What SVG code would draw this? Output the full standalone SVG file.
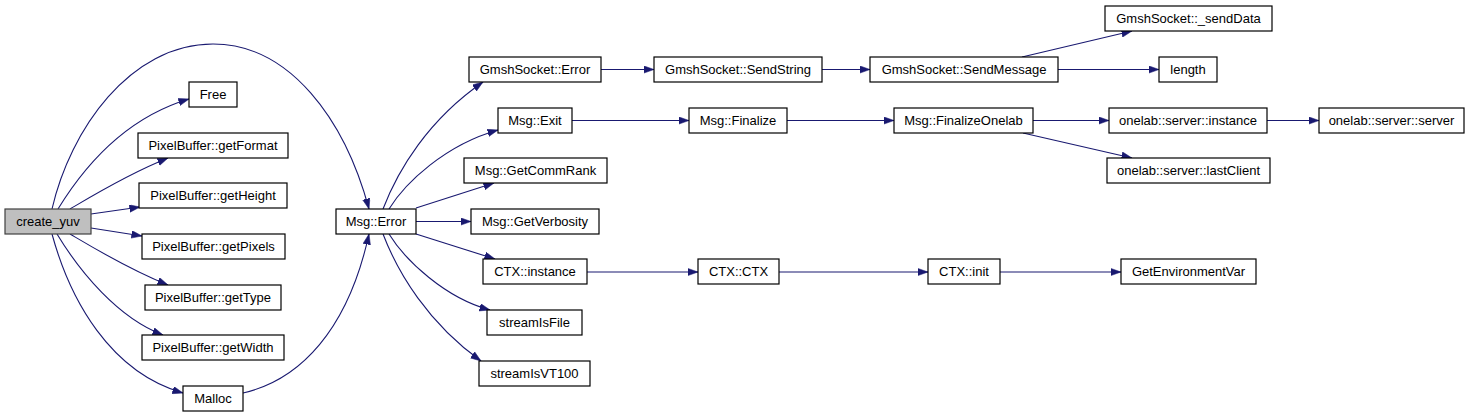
<svg xmlns="http://www.w3.org/2000/svg" width="1469" height="417" viewBox="0 0 1469 417">
<style>
.n rect{fill:#fff;stroke:#000;stroke-width:1.2}
.n.root rect{fill:#bfbfbf;stroke:#404040}
.n text{font-family:"Liberation Sans",Arial,sans-serif;font-size:13px;fill:#000;text-anchor:middle}
.e path{fill:none;stroke:#191970;stroke-width:1.1;marker-end:url(#ah)}
</style>
<defs>
<marker id="ah" markerUnits="userSpaceOnUse" markerWidth="11" markerHeight="8" refX="10.5" refY="3.75" orient="auto">
<path d="M0,0 L10.5,3.75 L0,7.5 z" fill="#191970" stroke="#191970" stroke-width="0.5"/>
</marker>
</defs>
<rect width="1469" height="417" fill="#fff"/>
<g id="edges" class="e">
<path d="M52,209 C70,130 130,44 213,44 C290,44 345,120 369,209"/>
<path d="M58,209 C85,165 125,118 189,99"/>
<path d="M70,209 C92,196 128,174 168,158"/>
<path d="M91,214 L140,207"/>
<path d="M91,228 L142,236"/>
<path d="M70,234 C92,247 128,269 168,285"/>
<path d="M57,234 C80,272 118,318 163,335"/>
<path d="M52,234 C70,300 110,372 183,393"/>
<path d="M243,393 C300,380 348,330 369,234"/>
<path d="M383,209 C398,170 428,120 483,82"/>
<path d="M389,209 C405,183 445,145 498,130"/>
<path d="M416,208 L494,183"/>
<path d="M416,221.5 L471,221.5"/>
<path d="M416,234 L495,259"/>
<path d="M389,234 C405,260 445,298 490,310"/>
<path d="M383,234 C398,273 428,323 481,361"/>
<path d="M601,69.5 L654,69.5"/>
<path d="M822,69.5 L870,69.5"/>
<path d="M1022,57 L1132,31"/>
<path d="M1058,69.5 L1159,69.5"/>
<path d="M572,120.5 L689,120.5"/>
<path d="M787,120.5 L894,120.5"/>
<path d="M1033,120.5 L1109,120.5"/>
<path d="M1023,133 L1132,158"/>
<path d="M1267,120.5 L1319,120.5"/>
<path d="M587,272 L698,272"/>
<path d="M779,272 L928,272"/>
<path d="M1000,272 L1121,272"/>
</g>
<g id="create_yuv" class="n root"><rect x="5" y="209" width="86" height="25"/><text x="48" y="226">create_yuv</text></g>
<g id="Free" class="n"><rect x="189" y="82" width="48" height="25"/><text x="213" y="99">Free</text></g>
<g id="getFormat" class="n"><rect x="138" y="133" width="150" height="25"/><text x="213" y="150">PixelBuffer::getFormat</text></g>
<g id="getHeight" class="n"><rect x="139" y="183" width="148" height="25"/><text x="213" y="200">PixelBuffer::getHeight</text></g>
<g id="getPixels" class="n"><rect x="142" y="234" width="143" height="25"/><text x="213.5" y="251">PixelBuffer::getPixels</text></g>
<g id="getType" class="n"><rect x="145" y="285" width="136" height="25"/><text x="213" y="302">PixelBuffer::getType</text></g>
<g id="getWidth" class="n"><rect x="142" y="335" width="142" height="25"/><text x="213" y="352">PixelBuffer::getWidth</text></g>
<g id="Malloc" class="n"><rect x="183" y="386" width="60" height="25"/><text x="213" y="403">Malloc</text></g>
<g id="MsgError" class="n"><rect x="336" y="209" width="80" height="25"/><text x="376" y="226">Msg::Error</text></g>
<g id="GmshSocketError" class="n"><rect x="469" y="57" width="132" height="25"/><text x="535" y="74">GmshSocket::Error</text></g>
<g id="MsgExit" class="n"><rect x="498" y="108" width="74" height="25"/><text x="535" y="125">Msg::Exit</text></g>
<g id="GetCommRank" class="n"><rect x="464" y="158" width="143" height="25"/><text x="535.5" y="175">Msg::GetCommRank</text></g>
<g id="GetVerbosity" class="n"><rect x="471" y="209" width="128" height="25"/><text x="535" y="226">Msg::GetVerbosity</text></g>
<g id="CTXinstance" class="n"><rect x="483" y="259" width="104" height="25"/><text x="535" y="276">CTX::instance</text></g>
<g id="streamIsFile" class="n"><rect x="487" y="310" width="95" height="25"/><text x="534.5" y="327">streamIsFile</text></g>
<g id="streamIsVT100" class="n"><rect x="479" y="361" width="111" height="25"/><text x="534.5" y="378">streamIsVT100</text></g>
<g id="SendString" class="n"><rect x="654" y="57" width="168" height="25"/><text x="738" y="74">GmshSocket::SendString</text></g>
<g id="SendMessage" class="n"><rect x="870" y="57" width="188" height="25"/><text x="964" y="74">GmshSocket::SendMessage</text></g>
<g id="sendData" class="n"><rect x="1105" y="6" width="167" height="25"/><text x="1188.5" y="23">GmshSocket::_sendData</text></g>
<g id="length" class="n"><rect x="1159" y="57" width="58" height="25"/><text x="1188" y="74">length</text></g>
<g id="MsgFinalize" class="n"><rect x="689" y="108" width="98" height="25"/><text x="738" y="125">Msg::Finalize</text></g>
<g id="FinalizeOnelab" class="n"><rect x="894" y="108" width="139" height="25"/><text x="963.5" y="125">Msg::FinalizeOnelab</text></g>
<g id="serverInstance" class="n"><rect x="1109" y="108" width="158" height="25"/><text x="1188" y="125">onelab::server::instance</text></g>
<g id="serverServer" class="n"><rect x="1319" y="108" width="145" height="25"/><text x="1391.5" y="125">onelab::server::server</text></g>
<g id="lastClient" class="n"><rect x="1107" y="158" width="163" height="25"/><text x="1188.5" y="175">onelab::server::lastClient</text></g>
<g id="CTXCTX" class="n"><rect x="698" y="259" width="81" height="25"/><text x="738.5" y="276">CTX::CTX</text></g>
<g id="CTXinit" class="n"><rect x="928" y="259" width="72" height="25"/><text x="964" y="276">CTX::init</text></g>
<g id="GetEnvironmentVar" class="n"><rect x="1121" y="259" width="135" height="25"/><text x="1188.5" y="276">GetEnvironmentVar</text></g>
</svg>
